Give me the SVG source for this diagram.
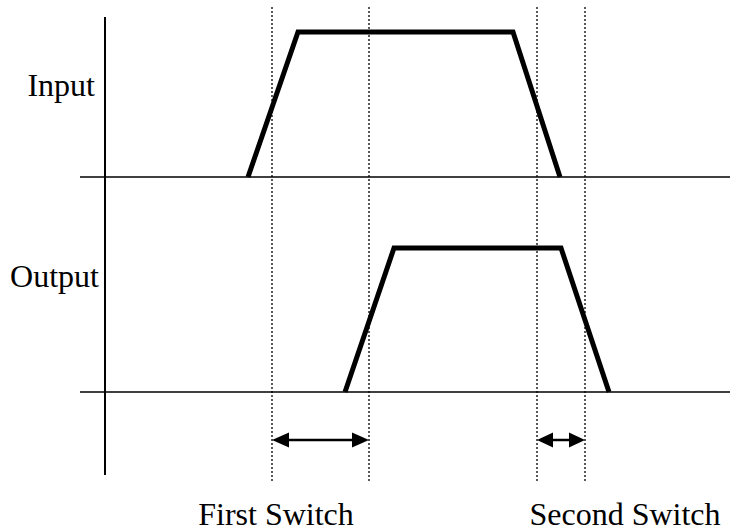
<svg xmlns="http://www.w3.org/2000/svg" width="743" height="531" viewBox="0 0 743 531">
<style>
.axis{stroke:#000;stroke-width:2;fill:none}
.base{stroke:#000;stroke-width:1.5;fill:none}
.dot{stroke:#000;stroke-width:1.3;stroke-dasharray:2 2;fill:none}
.sig{stroke:#000;stroke-width:5;fill:none;stroke-linejoin:miter;stroke-miterlimit:10}
.arr{stroke:#000;stroke-width:2.5;fill:none}
.head{fill:#000}
text{font-family:"Liberation Serif","Times New Roman",serif;font-size:32px;fill:#000}
</style>
<rect width="743" height="531" fill="#fff"/>
<g id="axes">
<line class="axis" x1="105" y1="17" x2="105" y2="475"/>
<line class="base" x1="80" y1="177" x2="730" y2="177"/>
<line class="base" x1="80" y1="392" x2="730" y2="392"/>
</g>
<g id="guides">
<line class="dot" x1="272" y1="7" x2="272" y2="482"/>
<line class="dot" x1="369" y1="7" x2="369" y2="482"/>
<line class="dot" x1="537" y1="7" x2="537" y2="482"/>
<line class="dot" x1="585" y1="7" x2="585" y2="482"/>
</g>
<g id="input-signal">
<polyline class="sig" points="248,177 298,32 513,32 560,177"/>
</g>
<g id="output-signal">
<polyline class="sig" points="345,392 394,248 561,248 609,392"/>
</g>
<g id="connectors">
<line class="arr" x1="285" y1="440" x2="356" y2="440"/>
<polygon class="head" points="272,440 289,432.5 289,447.5"/>
<polygon class="head" points="369,440 352,432.5 352,447.5"/>
<line class="arr" x1="550" y1="440" x2="572" y2="440"/>
<polygon class="head" points="537,440 553,432.5 553,447.5"/>
<polygon class="head" points="585,440 569,432.5 569,447.5"/>
</g>
<g id="label-input"><text x="95" y="96" text-anchor="end">Input</text></g>
<g id="label-output"><text x="99" y="287" text-anchor="end">Output</text></g>
<g id="label-first"><text x="276" y="525" text-anchor="middle">First Switch</text></g>
<g id="label-second"><text x="625" y="525" text-anchor="middle">Second Switch</text></g>
</svg>
